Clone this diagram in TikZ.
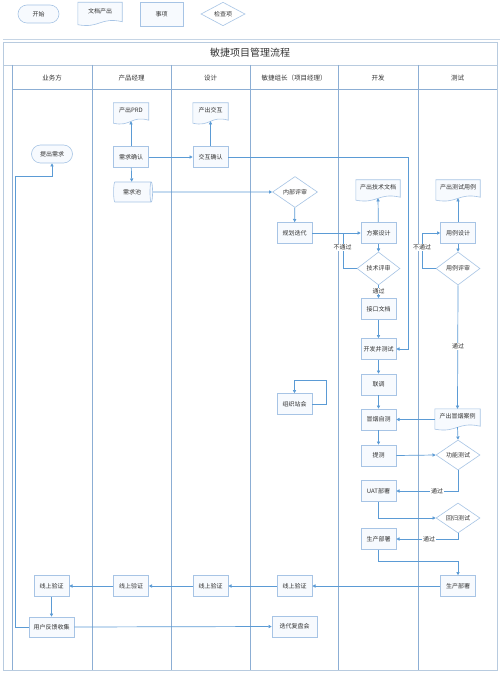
\documentclass[tikz,border=0pt]{standalone}
\usepackage{fontspec}
\setmainfont{Noto Sans CJK SC}
\usetikzlibrary{shapes.geometric,shapes.misc,arrows.meta,calc,backgrounds}
\definecolor{linec}{HTML}{5B9BD5}
\definecolor{boxc}{HTML}{A7C4E5}
\definecolor{boxf}{HTML}{F7FAFE}
\definecolor{lanec}{HTML}{8CAED4}
\definecolor{framec}{HTML}{B8CBDF}
\definecolor{txtc}{HTML}{333333}
\newcommand{\docshape}[1]{%
  \begin{scope}[on background layer]
  \draw[docline] (#1.north west) -- (#1.north east) -- ([yshift=-2pt]#1.south east)
    .. controls ([yshift=3pt]#1.south) and ([yshift=-9pt]#1.south) .. ([yshift=-5pt]#1.south west) -- cycle;
  \end{scope}}
\begin{document}
\begin{tikzpicture}[x=1pt,y=1pt,
  every node/.style={text=txtc},
  box/.style={draw=boxc, fill=boxf, line width=0.6pt, minimum width=35pt, minimum height=21pt, inner sep=1pt, font=\fontsize{6}{7}\selectfont},
  chk/.style={diamond, draw=boxc, fill=white, line width=0.6pt, minimum width=44pt, minimum height=32pt, inner sep=0pt, font=\fontsize{6}{7}\selectfont},
  docn/.style={minimum width=35pt, minimum height=15pt, inner sep=1pt, font=\fontsize{6}{7}\selectfont},
  docline/.style={draw=boxc, fill=boxf, line width=0.6pt},
  conn/.style={draw=linec, line width=0.7pt, -{Triangle[length=3.2pt,width=3.2pt]}},
  plainl/.style={draw=linec, line width=0.7pt},
  lbl/.style={fill=white, inner sep=0.6pt, font=\fontsize{6}{7}\selectfont},
  hdr/.style={font=\fontsize{6.5}{7}\selectfont},
  lane/.style={draw=lanec, line width=1pt},
  frame/.style={draw=framec, line width=0.8pt}
]
\useasboundingbox (0,0) rectangle (500,-676);
\begin{scope}[on background layer]
\fill[white] (0,0) rectangle (500,-676);
\end{scope}

% legend
\node[rounded rectangle, draw=boxc, fill=boxf, line width=0.6pt, minimum width=43pt, minimum height=18pt, inner sep=1pt, font=\fontsize{6}{7}\selectfont] (lgstart) at (38.5,-14) {开始};
\node[docn, minimum width=44pt, minimum height=17pt] (lgdoc) at (100,-11) {文档产出};
\docshape{lgdoc}
\node[box, minimum width=43pt, minimum height=24pt] (lgbox) at (161.5,-14) {事项};
\node[chk, minimum width=44pt, minimum height=22pt] (lgchk) at (223,-14) {检查项};
\draw[frame, draw=framec!80] (3,-39.5) coordinate (sepl) -- (500,-39.5) coordinate (sepr);

% frame and lanes
\draw[frame] (3,-42) rectangle (497,-670);
\draw[frame] (3,-65) -- (497,-65);
\node[font=\fontsize{10}{12}\selectfont] (title) at (250,-52.5) {敏捷项目管理流程};
\draw[lane] (12,-65) -- (12,-670);
\foreach \x in {92,171,250,338,418} { \draw[lane] (\x,-65) -- (\x,-670); }
\draw[lane] (12,-90) -- (497,-90);
\node[hdr] (h1) at (52,-78) {业务方};
\node[hdr] (h2) at (131.5,-78) {产品经理};
\node[hdr] (h3) at (210.5,-78) {设计};
\node[hdr] (h4) at (294,-78) {敏捷组长（项目经理）};
\node[hdr] (h5) at (378,-78) {开发};
\node[hdr] (h6) at (457.5,-78) {测试};

% nodes
\node[rounded rectangle, draw=boxc, fill=boxf, line width=0.6pt, minimum width=43pt, minimum height=18pt, inner sep=1pt, font=\fontsize{6}{7}\selectfont] (tcxq) at (52,-154) {提出需求};
\node[docn] (prd) at (131,-110.5) {产出PRD};
\docshape{prd}
\node[box] (xqqr) at (131,-157) {需求确认};
\node[cylinder, draw=boxc, fill=boxf, line width=0.6pt, minimum width=20pt, minimum height=39pt, shape aspect=0.35, inner sep=1pt, font=\fontsize{6}{7}\selectfont] (xqc) at (132,-192) {需求池};
\node[docn] (chujh) at (210.5,-110.5) {产出交互};
\docshape{chujh}
\node[box] (jhqr) at (210.5,-157) {交互确认};
\node[chk, minimum width=45pt, minimum height=31pt] (nbps) at (295,-192) {内部评审};
\node[box] (ghdd) at (294.5,-233) {规划迭代};
\node[box] (fasj) at (378.5,-233) {方案设计};
\node[docn, minimum width=44pt] (jswd) at (378,-187.5) {产出技术文档};
\docshape{jswd}
\node[chk, minimum width=43pt, minimum height=33pt] (jsps) at (378.5,-268.5) {技术评审};
\node[box] (jkwd) at (378.5,-309) {接口文档};
\node[box] (ylsj) at (458,-233) {用例设计};
\node[docn, minimum width=44pt] (cscl) at (458,-187.5) {产出测试用例};
\docshape{cscl}
\node[chk, minimum width=44pt, minimum height=33pt] (ylps) at (458,-268.5) {用例评审};
\node[box] (kfcs) at (378.5,-349) {开发并测试};
\node[box] (lt) at (378.5,-384.5) {联调};
\node[box] (zzzh) at (294.5,-404) {组织站会};
\node[box] (myzc) at (378.5,-419.5) {冒烟自测};
\node[docn, minimum width=45pt] (mycl) at (457.5,-416.5) {产出冒烟案例};
\docshape{mycl}
\node[box] (tc) at (378.5,-455.5) {提测};
\node[chk, minimum width=44pt, minimum height=30pt] (gncs) at (458,-455) {功能测试};
\node[box] (uat) at (378.5,-491) {UAT部署};
\node[chk, minimum width=44pt, minimum height=30pt] (hgcs) at (458,-518) {回归测试};
\node[box] (scbs1) at (378.5,-539) {生产部署};
\node[box] (scbs2) at (458,-586) {生产部署};
\node[box] (xsyz4) at (294.5,-586) {线上验证};
\node[box] (xsyz3) at (210.5,-586) {线上验证};
\node[box] (xsyz2) at (131,-586) {线上验证};
\node[box] (xsyz1) at (51.5,-586) {线上验证};
\node[box, minimum width=45pt, minimum height=20pt] (yhfk) at (51.5,-627) {用户反馈收集};
\node[box, minimum width=45pt, minimum height=21pt] (fpfh) at (294.5,-626.5) {迭代复盘会};

% connectors
\draw[conn] (xqqr) -- ([yshift=-3pt]prd.south);
\draw[conn] (xqqr) -- (xqc);
\draw[conn] (xqqr) -- (jhqr);
\draw[conn] (jhqr) -- ([yshift=-3pt]chujh.south);
\draw[conn] (jhqr.east) -| ($(kfcs.east)+(12.5,0)$) -- (kfcs.east);
\draw[conn] (xqc.east) -- (nbps.west);
\draw[conn] (nbps) -- (ghdd);
\draw[conn] (ghdd) -- (fasj);
\draw[conn] (fasj) -- ([yshift=-3pt]jswd.south);
\draw[conn] (fasj) -- (jsps);
\draw[plainl] (jsps.west) -| ($(fasj.west)+(-17.5,0)$);
\node[lbl] (l1) at (342.5,-247.5) {不通过};
\draw[conn] (jsps) -- (jkwd);
\node[lbl] (l2) at (378.5,-291) {通过};
\draw[conn] (jkwd) -- (kfcs);
\draw[conn] (ylsj) -- ([yshift=-3pt]cscl.south);
\draw[conn] (ylsj) -- (ylps);
\draw[conn] (ylps.west) -| ($(ylsj.west)+(-18,0)$) -- (ylsj.west);
\node[lbl] (l3) at (422,-247.5) {不通过};
\draw[conn] (ylps.south) -- (mycl.north);
\node[lbl] (l4) at (458,-346.5) {通过};
\draw[conn] (kfcs) -- (lt);
\draw[conn] (lt) -- (myzc);
\draw[conn] (myzc.east -| mycl.west) -- (myzc.east);
\draw[conn] (myzc) -- (tc);
\draw[conn] (tc.east) -- (gncs.west);
\draw[conn] ([yshift=-3pt]mycl.south) -- (gncs.north);
\draw[conn] (gncs.south) |- (uat.east);
\node[lbl] (l5) at (437,-491) {通过};
\draw[conn] (uat.south) |- (hgcs.west);
\draw[conn] (hgcs.south) |- (scbs1.east);
\node[lbl] (l6) at (429,-539) {通过};
\draw[conn] (scbs1.south) -- ++(0,-12) -| (scbs2.north);
\draw[conn] (scbs2) -- (xsyz4);
\draw[conn] (xsyz4) -- (xsyz3);
\draw[conn] (xsyz3) -- (xsyz2);
\draw[conn] (xsyz2) -- (xsyz1);
\draw[conn] (xsyz1) -- (yhfk);
\draw[conn] (yhfk.east) -- (fpfh.west);
\draw[conn] (yhfk.west) -- ++(-13.5,0) |- ($(tcxq.south)+(0,-13)$) -- (tcxq.south);
\draw[conn] (zzzh.east) -- ++(14,0) -- ++(0,24) -| (zzzh.north);
\end{tikzpicture}
\end{document}
